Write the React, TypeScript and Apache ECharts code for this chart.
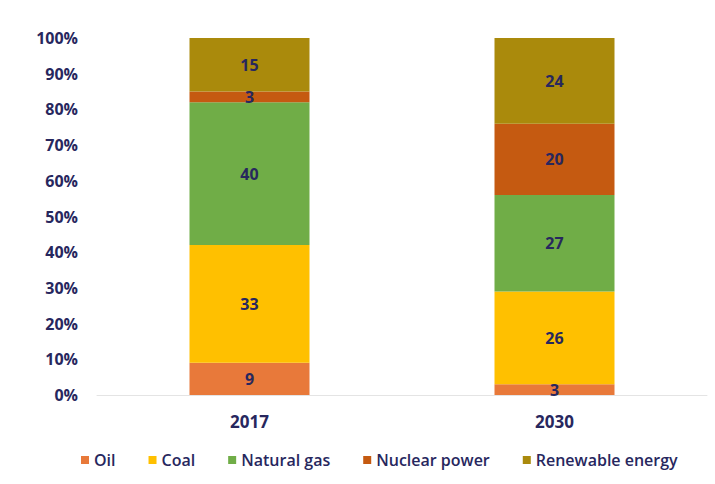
import React, { useEffect, useRef } from "react";
import * as echarts from "echarts";

// Share of primary energy supply by source, percent
const years = ["2017", "2030"];
const seriesNames = ["Oil", "Coal", "Natural gas", "Nuclear power", "Renewable energy"];
const oil = [9, 3];
const coal = [33, 26];
const naturalGas = [40, 27];
const nuclear = [3, 20];
const renewable = [15, 24];
const colors = ["#E8793A", "#FFC000", "#70AD47", "#C55A11", "#AA8A0C"];
const yTicks = { min: 0, max: 100, interval: 10 };

const textColor = "#27275E";
const font = "'Open Sans', 'DejaVu Sans', sans-serif";

export default function App() {
  const ref = useRef<HTMLDivElement>(null);

  useEffect(() => {
    if (!ref.current) return;
    const chart = echarts.init(ref.current, undefined, { renderer: "svg" });
    const values = [oil, coal, naturalGas, nuclear, renewable];
    chart.setOption({
      animation: false,
      backgroundColor: "#ffffff",
      color: colors,
      grid: { left: 97, right: 8, top: 38, bottom: 89 },
      legend: {
        bottom: 11,
        left: 76,
        itemWidth: 8,
        itemHeight: 8,
        itemGap: 33,
        icon: "rect",
        textStyle: { color: textColor, fontFamily: font, fontSize: 16, fontWeight: 600 },
        data: seriesNames,
      },
      xAxis: {
        type: "category",
        data: years,
        axisLine: { show: true, lineStyle: { color: "#e4e4e4" } },
        axisTick: { show: false },
        axisLabel: {
          color: textColor,
          fontFamily: font,
          fontSize: 17,
          fontWeight: 700,
          margin: 18,
        },
      },
      yAxis: {
        type: "value",
        min: yTicks.min,
        max: yTicks.max,
        interval: yTicks.interval,
        splitLine: { show: false },
        axisLine: { show: false },
        axisTick: { show: false },
        axisLabel: {
          formatter: "{value}%",
          color: textColor,
          fontFamily: font,
          fontSize: 16,
          fontWeight: 700,
          margin: 19,
        },
      },
      series: seriesNames.map((name, i) => ({
        name,
        type: "bar",
        stack: "total",
        barWidth: 120,
        data: values[i],
        itemStyle: { color: colors[i] },
        label: {
          show: true,
          position: "inside",
          color: textColor,
          fontFamily: font,
          fontSize: 16,
          fontWeight: 700,
        },
      })),
    });
    return () => chart.dispose();
  }, []);

  return (
    <div
      ref={ref}
      style={{ position: "absolute", left: 0, top: 0, width: 715, height: 484 }}
    />
  );
}
